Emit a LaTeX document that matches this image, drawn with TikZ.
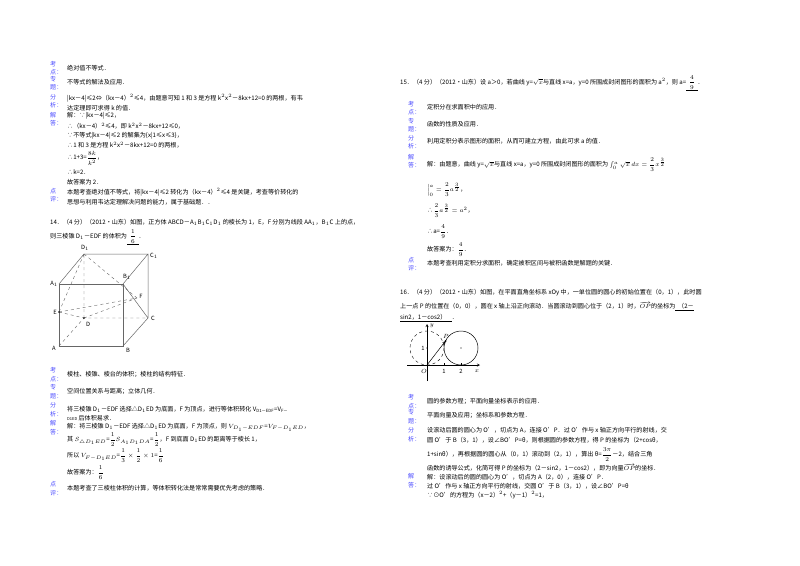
\documentclass[tikz,border=0pt]{standalone}
\usepackage{amsmath}
\usepackage{fontspec}
\setmainfont{Noto Sans CJK SC}
\begin{document}
\begin{tikzpicture}[x=1pt,y=-1pt]
\tikzset{t/.style={anchor=west,inner sep=0,font=\fontsize{6.1}{7}\selectfont},
 lb/.style={anchor=west,inner sep=0,font=\fontsize{6.1}{7}\selectfont,text=blue!70!white},
 ed/.style={draw=black!60,line width=0.5pt},
 hd/.style={draw=black!60,dashed,line width=0.4pt},
 vl/.style={anchor=center,inner sep=0,font=\fontsize{5.8}{7}\selectfont}}
\useasboundingbox[fill=white] (0,0) rectangle (800,565);
% ---------- left column
\foreach \a/\b/\y in {考/点/64,专/题/79,分/析/97,解/答/115,点/评/191}{
 \node[lb] at (50,\y) {\a}; \node[lb] at (50,\y+8) {\b：};}
\node[t] (l1) at (67,68) {绝对值不等式．};
\node[t] (l2) at (67,82) {不等式的解法及应用．};
\node[t] (l3) at (67,98) {|kx－4|≤2⇔（kx－4）$^2$≤4，由题意可知 1 和 3 是方程 k$^2$x$^2$－8kx+12=0 的两根，有韦};
\node[t] (l4) at (67,108) {达定理即可求得 k 的值．};
\node[t] (l5) at (67,116) {解：∵|kx－4|≤2，};
\node[t] (l6) at (67,126) {∴（kx－4）$^2$≤4，即 k$^2$x$^2$－8kx+12≤0，};
\node[t] (l7) at (67,136) {∵不等式|kx－4|≤2 的解集为\{x|1≤x≤3\}，};
\node[t] (l8) at (67,145) {∴1 和 3 是方程 k$^2$x$^2$－8kx+12=0 的两根，};
\node[t] (l9) at (67,158) {∴1+3=$\dfrac{8k}{k^2}$，};
\node[t] (l10) at (67,172) {∴k=2．};
\node[t] (l11) at (67,182) {故答案为 2．};
\node[t] (l12) at (67,192) {本题考查绝对值不等式，将|kx－4|≤2 转化为（kx－4）$^2$≤4 是关键，考查等价转化的};
\node[t] (l13) at (67,202) {思想与利用韦达定理解决问题的能力，属于基础题．．};
\node[t] (q14) at (50,222) {14．（4 分）（2012•山东）如图，正方体 ABCD－A$_1$B$_1$C$_1$D$_1$ 的棱长为 1，E，F 分别为线段 AA$_1$，B$_1$C 上的点，};
\node[t] (q14b) at (50,237) {则三棱锥 D$_1$－EDF 的体积为\underline{\ \ $\dfrac16$\ \ }．};
% cube
\coordinate (A) at (59,346); \coordinate (B) at (123,346);
\coordinate (B1) at (123,284); \coordinate (A1) at (59,284);
\coordinate (D) at (84,318); \coordinate (C) at (148,318);
\coordinate (C1) at (148,254); \coordinate (D1) at (84,254);
\coordinate (E) at (59,312); \coordinate (F) at (137,298);
\draw[ed] (A)--(B)--(B1)--(A1)--cycle;
\draw[ed] (A1)--(D1)--(C1)--(B1) (C1)--(C)--(B) (B1)--(C);
\draw[hd] (A)--(D)--(C) (D)--(D1) (D1)--(E) (D1)--(F) (E)--(F) (E)--(D) (D)--(F);
\fill (E) circle (0.8) (D) circle (0.8);
\node[vl] at (54,284) {A$_1$}; \node[vl] at (85,248) {D$_1$};
\node[vl] at (154,256) {C$_1$}; \node[vl] at (127,277) {B$_1$};
\node[vl] at (55,312) {E}; \node[vl] at (141,296) {F};
\node[vl] at (88,324) {D}; \node[vl] at (153,318) {C};
\node[vl] at (54,348) {A}; \node[vl] at (128,350) {B};
\foreach \a/\b/\y in {考/点/370,专/题/387,分/析/405,解/答/423,点/评/484}{
 \node[lb] at (50,\y) {\a}; \node[lb] at (50,\y+9) {\b：};}
\node[t] (m1) at (67,374) {棱柱、棱锥、棱台的体积；棱柱的结构特征．};
\node[t] (m2) at (67,391) {空间位置关系与距离；立体几何．};
\node[t] (m3) at (67,409) {将三棱锥 D$_1$－EDF 选择△D$_1$ED 为底面，F 为顶点，进行等体积转化 V$_{\text{D1－EDF}}$=V$_{\text{F－}}$};
\node[t] (m4) at (67,418) {{\fontsize{4}{5}\selectfont D1ED} 后体积易求．};
\node[t] (m5) at (67,427) {解：将三棱锥 D$_1$－EDF 选择△D$_1$ED 为底面，F 为顶点，则 $V_{D_1-EDF}$=$V_{F-D_1ED}$，};
\node[t] (m6) at (67,440) {其 $S_{\triangle D_1ED}$=$\dfrac12S_{A_1D_1DA}$=$\dfrac12$，F 到底面 D$_1$ED 的距离等于棱长 1，};
\node[t] (m7) at (67,456) {所以 $V_{F-D_1ED}$=$\dfrac13\times\dfrac12\times1$=$\dfrac16$};
\node[t] (m8) at (67,473) {故答案为：$\dfrac16$};
\node[t] (m9) at (67,488) {本题考查了三棱柱体积的计算，等体积转化法是常常需要优先考虑的策略．};
% ---------- right column
\node[t] (q15) at (400,83) {15．（4 分）（2012•山东）设 a＞0，若曲线 y=$\sqrt{x}$与直线 x=a，y=0 所围成封闭图形的面积为 a$^2$，则 a=\underline{\ \ $\dfrac49$\ \ }．};
\foreach \a/\b/\y in {考/点/104,专/题/121,分/析/138,解/答/157,点/评/260}{
 \node[lb] at (408,\y) {\a}; \node[lb] at (408,\y+8) {\b：};}
\node[t] (r1) at (427,107) {定积分在求面积中的应用．};
\node[t] (r2) at (427,124) {函数的性质及应用．};
\node[t] (r3) at (427,141) {利用定积分表示图形的面积，从而可建立方程，由此可求 a 的值．};
\node[t] (r4) at (427,165) {解：由题意，曲线 y=$\sqrt{x}$与直线 x=a，y=0 所围成封闭图形的面积为 $\int_0^a\sqrt{x}\,dx=\dfrac23x^{\frac32}$};
\node[t] (r5) at (427,190) {$\Big|_0^a=\dfrac23a^{\frac32}$，};
\node[t] (r6) at (427,211) {∴$\dfrac23a^{\frac32}=a^2$，};
\node[t] (r7) at (427,232) {∴a=$\dfrac49$．};
\node[t] (r8) at (427,250) {故答案为：$\dfrac49$．};
\node[t] (r9) at (427,263) {本题考查利用定积分求面积，确定被积区间与被积函数是解题的关键．};
\node[t] (q16) at (400,293) {16．（4 分）（2012•山东）如图，在平面直角坐标系 xOy 中，一单位圆的圆心的初始位置在（0，1），此时圆};
\node[t] (q16b) at (400,306) {上一点 P 的位置在（0，0），圆在 x 轴上沿正向滚动．当圆滚动到圆心位于（2，1）时，$\overrightarrow{OP}$的坐标为\underline{\ \ （2－}};
\node[t] (q16c) at (400,318) {\underline{sin2，1－cos2）\ \ \ \ }．};
% figure 16
\coordinate (O) at (427,365);
\draw[->,>=stealth,line width=0.4pt] (407,365)--(480,365);
\draw[->,>=stealth,line width=0.4pt] (427,381)--(427,324);
\draw[dashed,line width=0.4pt] (427,348) circle (17);
\draw[line width=0.5pt] (461,348) circle (17);
\coordinate (P) at (445.5,341);
\draw[->,>=stealth,line width=0.5pt] (O)--(P);
\fill (P) circle (1) (461,348) circle (0.6) (427,348) circle (0.6);
\draw (444,365)--(444,363) (461,365)--(461,363);
\node[vl] at (424,371) {$O$}; \node[vl] at (444,371) {1}; \node[vl] at (461,371) {2};
\node[vl] at (477,371) {$x$}; \node[vl] at (432,326) {$y$}; \node[vl] at (423,348) {1};
\node[vl] at (446,336) {$P$};
\foreach \a/\b/\y in {考/点/397,专/题/412,分/析/430,解/答/476}{
 \node[lb] at (408,\y) {\a}; \node[lb] at (408,\y+9) {\b：};}
\node[t] (s1) at (427,401) {圆的参数方程；平面向量坐标表示的应用．};
\node[t] (s2) at (427,415) {平面向量及应用；坐标系和参数方程．};
\node[t] (s3) at (427,430) {设滚动后圆的圆心为 O'，切点为 A，连接 O'P．过 O'作与 x 轴正方向平行的射线，交};
\node[t] (s4) at (427,440) {圆 O'于 B（3，1），设∠BO'P=θ，则根据圆的参数方程，得 P 的坐标为（2+cosθ，};
\node[t] (s5) at (427,455) {1+sinθ），再根据圆的圆心从（0，1）滚动到（2，1），算出 θ=$\dfrac{3\pi}{2}$－2，结合三角};
\node[t] (s6) at (427,468) {函数的诱导公式，化简可得 P 的坐标为（2－sin2，1－cos2），即为向量$\overrightarrow{OP}$的坐标．};
\node[t] (s7) at (427,477) {解：设滚动后的圆的圆心为 O'，切点为 A（2，0），连接 O'P．};
\node[t] (s8) at (427,486) {过 O'作与 x 轴正方向平行的射线，交圆 O'于 B（3，1），设∠BO'P=θ};
\node[t] (s9) at (427,495) {∵⊙O'的方程为（x－2）$^2$+（y－1）$^2$=1，};
\end{tikzpicture}
\end{document}
